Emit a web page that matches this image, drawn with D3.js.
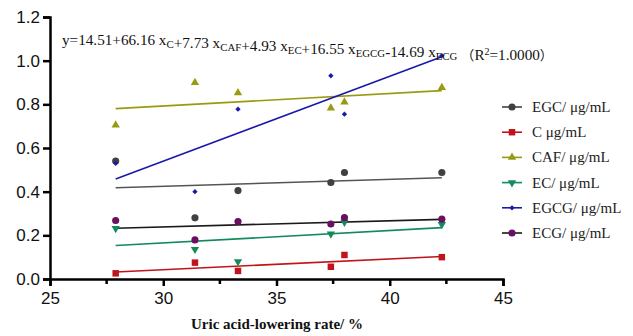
<!DOCTYPE html>
<html>
<head>
<meta charset="utf-8">
<script src="https://cdnjs.cloudflare.com/ajax/libs/d3/7.8.5/d3.min.js"></script>
<style>
  body { margin: 0; background: #fff; }
  .tick text { font-family: "Liberation Sans", Arial, sans-serif; font-size: 17px; fill: #111; }
</style>
</head>
<body>
<script>
// uric acid-lowering rate (%)
const rate = [27.9, 31.4, 33.3, 37.4, 38.0, 42.3];

const egc  = [0.54, 0.28, 0.405, 0.442, 0.488, 0.488];
const cat  = [0.026, 0.075, 0.037, 0.056, 0.11, 0.10];
const caf  = [0.705, 0.90, 0.853, 0.783, 0.81, 0.877];
const ec   = [0.232, 0.136, 0.08, 0.206, 0.26, 0.25];
const egcg = [0.53, 0.40, 0.778, 0.931, 0.755, 1.023];
const ecg  = [0.268, 0.179, 0.263, 0.252, 0.281, 0.274];

const seriesNames = ["EGC/ μg/mL", "C μg/mL", "CAF/ μg/mL", "EC/ μg/mL", "EGCG/ μg/mL", "ECG/ μg/mL"];
const xTicks = [25, 30, 35, 40, 45];
const yTicks = [0, 0.2, 0.4, 0.6, 0.8, 1.0, 1.2];

const series = [
  {name: seriesNames[0], vals: egc,  color: "#404040", line: "#555", shape: "circle"},
  {name: seriesNames[1], vals: cat,  color: "#c0141c", line: "#c0141c", shape: "square"},
  {name: seriesNames[2], vals: caf,  color: "#9a9a10", line: "#9a9a10", shape: "tri"},
  {name: seriesNames[3], vals: ec,   color: "#138a5c", line: "#138a5c", shape: "tridown"},
  {name: seriesNames[4], vals: egcg, color: "#1a1aa8", line: "#1a1aa8", shape: "diamond"},
  {name: seriesNames[5], vals: ecg,  color: "#6a0f62", line: "#1a1a1a", shape: "circle2"}
];

const svg = d3.select("body").append("svg")
  .attr("width", 633).attr("height", 336);

const x = d3.scaleLinear().domain([25, 45]).range([50, 503]);
const y = d3.scaleLinear().domain([0, 1.2]).range([279, 17]);

// least squares fit line
function fit(xs, ys) {
  const mx = d3.mean(xs), my = d3.mean(ys);
  let sxy = 0, sxx = 0;
  xs.forEach((v, i) => { sxy += (v - mx) * (ys[i] - my); sxx += (v - mx) * (v - mx); });
  const b = sxy / sxx;
  return t => my + b * (t - mx);
}

function symbolPath(shape) {
  if (shape === "circle" || shape === "circle2") return d3.symbol(d3.symbolCircle, 40)();
  if (shape === "square") return d3.symbol(d3.symbolSquare, 42)();
  if (shape === "tri") return d3.symbol(d3.symbolTriangle, 30)();
  if (shape === "tridown") return d3.symbol(d3.symbolTriangle, 30)();
  if (shape === "diamond") return d3.symbol(d3.symbolSquare, 14)();
}
function symbolRot(shape) {
  if (shape === "tridown") return " rotate(180)";
  if (shape === "diamond") return " rotate(45)";
  return "";
}

// axes
const xAxis = svg.append("g")
  .attr("transform", "translate(0,279)")
  .call(d3.axisBottom(x).tickValues(xTicks).tickSize(7).tickPadding(6).tickFormat(d3.format("d")));
xAxis.append("g").selectAll("line")
  .data([27.5, 32.5, 37.5, 42.5]).join("line")
  .attr("x1", d => x(d)).attr("x2", d => x(d))
  .attr("y1", 0).attr("y2", 5)
  .attr("stroke", "#000").attr("stroke-width", 2.5);

const yAxis = svg.append("g")
  .attr("transform", "translate(50,0)")
  .call(d3.axisLeft(y).tickValues(yTicks).tickSize(7).tickPadding(3).tickFormat(d3.format(".1f")));

svg.selectAll(".domain").attr("stroke", "#000").attr("stroke-width", 2.5);
svg.selectAll(".tick line").attr("stroke", "#000").attr("stroke-width", 2.5);

// fit lines
series.forEach(s => {
  const f = fit(rate, s.vals);
  const x0 = d3.min(rate), x1 = d3.max(rate);
  svg.append("line")
    .attr("x1", x(x0)).attr("y1", y(f(x0)))
    .attr("x2", x(x1)).attr("y2", y(f(x1)))
    .attr("stroke", s.line).attr("stroke-width", 1.6);
});

// markers
series.forEach(s => {
  svg.append("g").selectAll("path")
    .data(s.vals).join("path")
    .attr("d", symbolPath(s.shape))
    .attr("transform", (d, i) => "translate(" + x(rate[i]) + "," + y(d) + ")" + symbolRot(s.shape))
    .attr("fill", s.color);
});

// legend
const legend = svg.append("g").attr("transform", "translate(502,107)");
series.forEach((s, i) => {
  const g = legend.append("g").attr("transform", "translate(0," + (i * 25.2) + ")");
  g.append("line").attr("x1", 0).attr("x2", 20).attr("y1", 0).attr("y2", 0)
    .attr("stroke", s.line === "#555" ? "#444" : s.line).attr("stroke-width", 1.6);
  g.append("path").attr("d", symbolPath(s.shape))
    .attr("transform", "translate(10,0)" + symbolRot(s.shape)).attr("fill", s.color);
  g.append("text").attr("x", 30).attr("y", 5)
    .style("font-family", "'Liberation Serif', 'Times New Roman', serif")
    .style("font-size", "15px").attr("fill", "#222")
    .text(s.name);
});

// equation
const eq = svg.append("text").attr("x", 62).attr("y", 45)
  .style("font-family", "'Liberation Serif', 'Times New Roman', serif")
  .style("font-size", "15.2px").attr("fill", "#111");
const parts = [
  ["y=14.51+66.16 x", "C"], ["+7.73 x", "CAF"], ["+4.93 x", "EC"],
  ["+16.55 x", "EGCG"], ["-14.69 x", "ECG"]
];
parts.forEach(p => {
  eq.append("tspan").text(p[0]);
  eq.append("tspan").attr("dy", 3).style("font-size", "10.8px").text(p[1]);
  eq.append("tspan").attr("dy", -3).text("");
});
eq.append("tspan").attr("dx", 4).style("font-family", "'Noto Sans CJK SC'").style("font-size", "13px").text("（");
eq.append("tspan").text("R");
eq.append("tspan").attr("dy", -5).style("font-size", "10px").text("2");
eq.append("tspan").attr("dy", 5).text("=1.0000");
eq.append("tspan").style("font-family", "'Noto Sans CJK SC'").style("font-size", "13px").text("）");

// x label
svg.append("text").attr("x", 277).attr("y", 329)
  .attr("text-anchor", "middle")
  .style("font-family", "'Liberation Serif', 'Times New Roman', serif")
  .style("font-size", "15px").style("font-weight", "bold").attr("fill", "#111")
  .text("Uric acid-lowering rate/ %");
</script>
</body>
</html>
